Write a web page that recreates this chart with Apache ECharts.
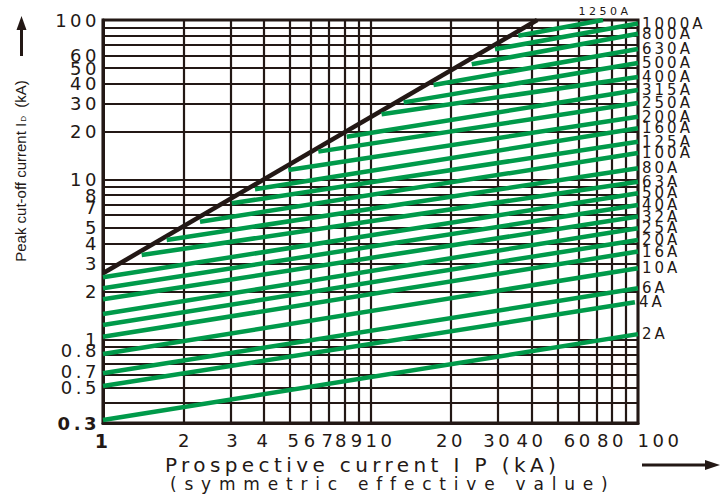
<!DOCTYPE html>
<html>
<head>
<meta charset="utf-8">
<script src="https://cdn.jsdelivr.net/npm/echarts@6/dist/echarts.min.js"></script>
<style>
  html, body { margin: 0; padding: 0; background: #fff; }
  #chart { width: 720px; height: 497px; }
</style>
</head>
<body>
<div id="chart"></div>
<script>
// Fuse ratings and their cut-off characteristic end points (kA, log-log)
const ratings = ['2A','4A','6A','10A','16A','20A','25A','32A','40A','50A','63A','80A','100A','125A','160A','200A','250A','315A','400A','500A','630A','800A','1000A','1250A'];
const startCurrent = [1,1,1,1,1,1,1,1,1,1,1.395,1.73,2.305,3.03,3.70,4.93,6.38,8.15,11.0,13.3,17.2,23.9,29.2,35.7];
const startPeak = [0.313,0.511,0.614,0.811,1.04,1.232,1.444,1.784,2.09,2.45,3.38,4.2,5.46,7.12,8.71,11.5,15.0,18.6,25.7,30.5,39.2,52.8,65.6,79.7];
const endCurrent = [100,97.4,100,100,100,100,100,100,100,100,100,100,100,100,100,100,100,100,100,100,100,100,100,74];
const endPeak = [1.08,1.71,2.09,2.79,3.55,4.20,4.97,5.88,6.95,8.22,9.72,11.8,14.7,17.3,21.0,24.8,30.2,36.5,44.0,53.8,65.8,82,95,100];

// Maximum peak (unlimited) line
const limitCurrent = [1, 42];
const limitPeak = [2.6, 100];

// Grid lines and tick labels
const xGridValues = [1,2,3,4,5,6,7,8,9,10,20,30,40,50,60,70,80,90,100];
const yGridValues = [0.3,0.4,0.5,0.6,0.7,0.8,0.9,1,2,3,4,5,6,7,8,9,10,20,30,40,50,60,70,80,90,100];
const xTickLabels = [1,2,3,4,5,6,7,8,9,10,20,30,40,60,80,100];
const yTickLabels = [0.3,0.5,0.7,0.8,1,2,3,4,5,7,8,10,20,30,40,50,60,80,100];

const GREEN = '#009a4a';
const INK = '#231815';
const FONT = "'DejaVu Sans', sans-serif";

const titleText = 'Prospective current I P (kA)';
const subtitleText = '(symmetric effective value)';

// Printed label offsets (px) relative to their tick: x labels sideways, y labels up/down
const xLabelShift = { 2: 2, 3: 3, 5: 5, 8: -2, 10: 10, 100: 22 };
const yLabelShift = { 0.8: -4, 0.7: 7, 7: 3 };

const chart = echarts.init(document.getElementById('chart'), null, { renderer: 'svg' });

const roundVal = v => Number(Number(v).toPrecision(6));
const styleKey = v => 's' + String(v).replace('.', '_');

// rich styles realising the label offsets through padding
const xRich = { b: { fontWeight: 'bold', fontSize: 19, fontFamily: FONT, color: INK } };
Object.keys(xLabelShift).forEach(k => {
  const d = xLabelShift[k];
  xRich[styleKey(k)] = { fontSize: 18, fontFamily: FONT, color: INK,
    padding: d > 0 ? [0, 0, 0, 2 * d] : [0, -2 * d, 0, 0] };
});
const yRich = { b: { fontWeight: 'bold', fontSize: 18, fontFamily: FONT, color: INK } };
Object.keys(yLabelShift).forEach(k => {
  const d = yLabelShift[k];
  yRich[styleKey(k)] = { fontSize: 18, fontFamily: FONT, color: INK,
    padding: d > 0 ? [2 * d, 0, 0, 0] : [0, 0, -2 * d, 0] };
});

const series = [{
  type: 'line',
  data: limitCurrent.map((x, i) => [x, limitPeak[i]]),
  symbol: 'none',
  lineStyle: { color: INK, width: 4.5 },
  silent: true
}];

ratings.forEach((name, i) => {
  const isTop = name === '1250A';
  series.push({
    type: 'line',
    name: name,
    data: [[startCurrent[i], startPeak[i]], [endCurrent[i], endPeak[i]]],
    symbol: 'none',
    lineStyle: { color: GREEN, width: 4.5 },
    silent: true,
    endLabel: isTop ? {
      show: true,
      formatter: name,
      color: INK,
      fontFamily: FONT,
      fontSize: 11,
      align: 'center',
      verticalAlign: 'bottom',
      distance: 0,
      offset: [2, -3]
    } : {
      show: true,
      formatter: name,
      color: INK,
      fontFamily: FONT,
      fontSize: 15,
      distance: 4
    }
  });
});

const option = {
  animation: false,
  backgroundColor: '#fff',
  grid: {
    left: 103, right: 82, top: 20, bottom: 74,
    show: true, borderColor: INK, borderWidth: 3, backgroundColor: 'transparent'
  },
  xAxis: {
    type: 'log', logBase: 10, min: 1, max: 100,
    axisLine: { show: true, lineStyle: { color: INK, width: 3 } },
    axisTick: { show: false, customValues: xGridValues },
    splitLine: { show: true, lineStyle: { color: INK, width: 2.2 } },
    minorTick: { show: false },
    axisLabel: {
      customValues: xTickLabels,
      showMinLabel: true,
      showMaxLabel: true,
      margin: 8,
      color: INK,
      fontFamily: FONT,
      fontSize: 18,
      formatter: v => {
        const r = roundVal(v);
        if (r === 1) return '{b|1}';
        if (xLabelShift[r] !== undefined) return '{' + styleKey(r) + '|' + r + '}';
        return String(r);
      },
      rich: xRich
    }
  },
  yAxis: {
    type: 'log', logBase: 10, min: 0.3, max: 100,
    axisLine: { show: true, lineStyle: { color: INK, width: 3 } },
    axisTick: { show: false, customValues: yGridValues },
    splitLine: { show: true, lineStyle: { color: INK, width: 2.2 } },
    axisLabel: {
      customValues: yTickLabels,
      showMinLabel: true,
      showMaxLabel: true,
      margin: 3,
      color: INK,
      fontFamily: FONT,
      fontSize: 18,
      formatter: v => {
        const r = roundVal(v);
        if (r === 0.3) return '{b|0.3}';
        if (yLabelShift[r] !== undefined) return '{' + styleKey(r) + '|' + r + '}';
        return String(r);
      },
      rich: yRich
    }
  },
  series: series,
  graphic: [
    // vertical arrow beside the y axis title
    { type: 'line', shape: { x1: 21.5, y1: 56, x2: 21.5, y2: 26 }, style: { stroke: INK, lineWidth: 3 } },
    { type: 'polygon', shape: { points: [[21.5, 16], [16.5, 30], [26.5, 30]] }, style: { fill: INK } },
    // horizontal arrow after the x axis title
    { type: 'line', shape: { x1: 642, y1: 465, x2: 708, y2: 465 }, style: { stroke: INK, lineWidth: 3 } },
    { type: 'polygon', shape: { points: [[720, 465], [705, 460], [705, 470]] }, style: { fill: INK } },
    // y axis title
    {
      type: 'text', x: 20, y: 171, rotation: Math.PI / 2,
      style: {
        text: 'Peak cut-off current I{sub|D}  (kA)',
        fill: INK,
        font: "15px 'Liberation Sans Narrow', 'Liberation Sans', sans-serif",
        align: 'center', verticalAlign: 'middle',
        rich: { sub: { fontSize: 8, fill: INK, fontFamily: "'Liberation Sans', sans-serif", verticalAlign: 'bottom', padding: [6, 0, 0, 1] } }
      }
    },
    // x axis titles
    {
      type: 'text', x: 165, y: 465,
      style: { text: titleText, fill: INK, font: "20px 'DejaVu Sans', sans-serif", align: 'left', verticalAlign: 'middle' }
    },
    {
      type: 'text', x: 170, y: 484,
      style: { text: subtitleText, fill: INK, font: "17px 'DejaVu Sans', sans-serif", align: 'left', verticalAlign: 'middle' }
    }
  ]
};

chart.setOption(option);

// Wide tracking of the printed lettering
function applyTracking() {
  chart.getDom().querySelectorAll('text').forEach(t => {
    const s = t.textContent;
    let ls = null;
    if (s === subtitleText) ls = 7.8;
    else if (s === titleText) ls = 4.4;
    else if (s === '1250A') ls = 3.5;
    else if (ratings.indexOf(s) >= 0) ls = 3;
    else if (/^[\d.]+$/.test(s)) ls = 3.5;
    if (ls !== null) t.setAttribute('letter-spacing', ls);
  });
}
applyTracking();
chart.on('finished', applyTracking);
</script>
</body>
</html>
